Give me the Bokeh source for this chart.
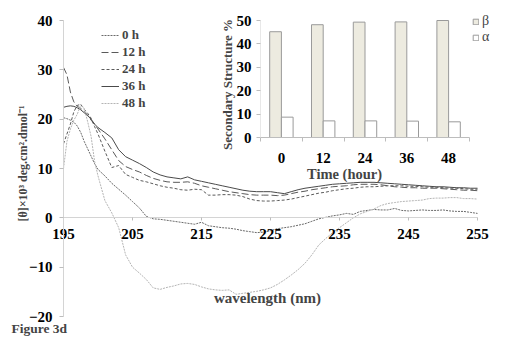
import numpy as np
from bokeh.plotting import figure
from bokeh.models import (Range1d, LinearAxis, FixedTicker, Legend, LegendItem, Label, ColumnDataSource)
from bokeh.embed import file_html
from bokeh.resources import INLINE

# ---------------- data ----------------
wavelength = [195, 195.5, 196, 196.5, 197, 197.5, 198, 198.5, 199, 199.5, 200] + list(range(201, 256))

h0 = [20.3, 20.1, 19.8, 19.4, 18.6, 17.3, 15.5, 14.0, 12.5, 11.0, 9.8,
      8.5, 7.0, 5.8, 4.6, 3.3, 2.0, 0.3, -0.2, -0.3, -0.5,
      -0.7, -0.9, -1.1, -1.3, -0.9, -1.6, -1.8, -2.0, -2.1, -2.3,
      -2.6, -2.8, -3.0, -2.9, -2.6, -2.2, -2.0, -1.8, -1.5, -1.2,
      -0.7, -0.2, 0.1, 0.4, 0.6, 0.9, 0.7, 1.3, 1.5, 1.7,
      1.6, 1.6, 1.9, 1.5, 1.4, 1.5, 1.6, 1.5, 1.5, 1.6,
      1.4, 1.3, 1.3, 1.1, 0.9]
h12 = [30.5, 29.0, 25.5, 23.5, 22.6, 22.2, 21.6, 20.8, 19.8, 19.0, 18.0,
       16.0, 13.8, 11.6, 10.4, 9.8, 9.3, 8.6, 8.0, 7.6, 7.3,
       7.2, 7.2, 7.3, 7.0, 6.5, 6.2, 5.9, 5.6, 5.3, 5.1,
       4.9, 4.7, 4.6, 4.6, 4.6, 4.5, 4.6, 4.9, 5.2, 5.4,
       5.7, 5.9, 6.1, 6.3, 6.4, 6.5, 6.7, 6.8, 6.8, 6.8,
       6.7, 6.5, 6.3, 6.2, 6.1, 6.1, 6.0, 6.0, 6.0, 5.9,
       5.8, 5.7, 5.6, 5.6, 5.5]
h24 = [15.0, 17.0, 19.0, 21.5, 22.8, 23.0, 22.0, 21.2, 20.2, 18.5, 17.0,
       13.5, 10.2, 10.6, 8.8, 8.2, 7.6, 7.3, 6.9, 6.5, 6.2,
       6.0, 5.7, 5.6, 5.8, 5.7, 4.6, 4.6, 4.7, 4.7, 4.6,
       4.3, 3.8, 3.5, 3.4, 3.4, 3.5, 3.6, 3.8, 4.1, 4.4,
       4.7, 5.0, 5.2, 5.5, 5.7, 5.9, 6.0, 6.2, 6.3, 6.3,
       6.4, 6.5, 6.5, 6.5, 6.4, 6.4, 6.3, 6.2, 6.2, 6.1,
       6.0, 6.0, 5.9, 5.8, 5.8]
h36 = [22.4, 22.6, 22.7, 22.6, 22.3, 21.9, 21.3, 20.7, 20.0, 19.0, 18.3,
       17.3, 16.2, 13.8, 12.4, 11.7, 11.0, 10.2, 9.3, 8.7, 8.3,
       8.1, 7.9, 8.3, 7.7, 7.4, 7.1, 6.8, 6.5, 6.2, 5.9,
       5.6, 5.4, 5.3, 5.3, 5.3, 5.1, 4.9, 5.3, 5.7, 6.0,
       6.2, 6.4, 6.6, 6.8, 6.9, 7.0, 7.1, 7.2, 7.2, 7.2,
       7.1, 7.0, 6.9, 6.8, 6.7, 6.6, 6.5, 6.4, 6.3, 6.3,
       6.2, 6.1, 6.1, 6.0, 6.0]
h48 = [10.0, 15.5, 18.0, 19.8, 21.0, 23.0, 22.2, 19.5, 16.5, 11.5, 8.5,
       3.5, 1.0, -2.0, -7.5, -10.0, -11.2, -12.5, -14.2, -14.5, -14.1,
       -13.8, -13.4, -13.3, -13.5, -14.0, -14.4, -14.6, -14.7, -14.6, -15.5,
       -15.3, -15.1, -14.9, -14.6, -14.2, -13.5, -12.6, -11.6, -10.5, -9.2,
       -7.5, -5.5, -4.2, -3.0, -2.0, -1.0, 0.0, 0.8, 1.3, 1.8,
       2.5, 2.9, 3.1, 3.3, 3.4, 3.5, 3.6, 3.9, 4.0, 4.0,
       4.1, 4.1, 3.9, 3.9, 3.8]

series_labels = ["0 h", "12 h", "24 h", "36 h", "48 h"]
x_ticks = [195, 205, 215, 225, 235, 245, 255]
y_ticks = [-20, -10, 0, 10, 20, 30, 40]

time_labels = ["0", "12", "24", "36", "48"]
beta = [45.2, 48.2, 49.3, 49.4, 50.0]
alpha = [8.7, 7.1, 7.1, 7.0, 6.7]
bar_y_ticks = [0, 10, 20, 30, 40, 50]

# ---------------- layout helpers (page pixel -> data) ----------------
W, H = 512, 337
OX, OY = 0, 0                      # canvas offset on the page (measured)
FL, FR, FT, FB = 63, 477, 20, 316  # main axes box in page px
XMIN, XMAX, YMIN, YMAX = 195, 255, -20, 40

def wl_at(px):
    return XMIN + (px - FL) * (XMAX - XMIN) / (FR - FL)

def v_at(py):
    return YMAX - (py - FT) * (YMAX - YMIN) / (FB - FT)

# inset: axis from page x 260..469, y 0 at 137, 50 at 20
IL, IR, I0, I50 = 260, 469, 137, 20
cat_w = (IR - IL) / len(time_labels)
bar_scale = (I0 - I50) / 50.0

def bx_at(px):
    return (px - IL) / cat_w - 0.5

def by_at(py):
    return (I0 - py) / bar_scale

SERIF = "Liberation Serif"

p = figure(width=W, height=H, output_backend="svg", toolbar_location=None,
           x_range=Range1d(wl_at(OX), wl_at(OX + W)), y_range=Range1d(v_at(OY + H), v_at(OY)),
           min_border=0)
p.outline_line_color = None
p.xgrid.visible = False
p.ygrid.visible = False
p.background_fill_color = "white"
p.border_fill_color = "white"

def style_axis(ax, size="15px"):
    ax.major_label_text_font = SERIF
    ax.major_label_text_font_style = "bold"
    ax.major_label_text_font_size = size
    ax.major_label_text_color = "black"
    ax.minor_tick_line_color = None

# main axes (drawn at x=195 / y=0 inside the frame)
xa = p.xaxis[0]
xa.fixed_location = 0
xa.bounds = (XMIN, XMAX)
xa.ticker = FixedTicker(ticks=x_ticks)
style_axis(xa)
xa.axis_line_color = "#d4d4d4"
xa.major_tick_line_color = "#bdbdbd"
xa.major_tick_in = 0
xa.major_tick_out = 3
xa.major_label_standoff = 8

ya = p.yaxis[0]
ya.fixed_location = XMIN
ya.bounds = (YMIN, YMAX)
ya.ticker = FixedTicker(ticks=y_ticks)
style_axis(ya)
ya.axis_line_color = "#d4d4d4"
ya.major_tick_line_color = "#bdbdbd"
ya.major_tick_in = 0
ya.major_tick_out = 4
ya.major_label_standoff = 7

# lines
styles = [
    dict(line_color="#6a6a6a", line_dash="2 1"),
    dict(line_color="#5a5a5a", line_dash="7 3"),
    dict(line_color="#5a5a5a", line_dash="3 2"),
    dict(line_color="#4a4a4a", line_dash="solid"),
    dict(line_color="#b4b4b4", line_dash="2 1"),
]
items = []
for lab, ys, st in zip(series_labels, [h0, h12, h24, h36, h48], styles):
    r = p.line(wavelength, ys, line_width=1, **st)
    items.append(LegendItem(label=lab, renderers=[r]))

leg = Legend(items=items, location=(101 - OX, OY + H - 111), orientation="vertical",
             label_text_font=SERIF, label_text_font_style="bold", label_text_font_size="13px",
             glyph_width=18, glyph_height=14, label_height=14, spacing=1, padding=0,
             margin=0, label_standoff=3, background_fill_alpha=0, border_line_color=None)
p.add_layout(leg, "center")

# ---------------- inset bar chart ----------------
p.extra_y_ranges = {"bar_y": Range1d(by_at(OY + H), by_at(OY))}
p.extra_x_ranges = {"bar_x": Range1d(bx_at(OX), bx_at(OX + W))}

idx = np.arange(len(time_labels))
bw = 0.28
src = ColumnDataSource(dict(xb=idx - bw / 2, xa=idx + bw / 2, beta=beta, alpha=alpha))
rb = p.vbar(x="xb", top="beta", bottom=0, width=bw, source=src, x_range_name="bar_x",
            y_range_name="bar_y", fill_color="#edebe0", line_color="#9a9a9a", line_width=1)
ra = p.vbar(x="xa", top="alpha", bottom=0, width=bw, source=src, x_range_name="bar_x",
            y_range_name="bar_y", fill_color="white", line_color="#9a9a9a", line_width=1)

iy = LinearAxis(y_range_name="bar_y", fixed_location=wl_at(IL), bounds=(0, 50),
                ticker=FixedTicker(ticks=bar_y_ticks))
style_axis(iy)
iy.axis_line_color = "#e8e8e8"
iy.major_tick_line_color = "#bdbdbd"
iy.major_tick_in = 0
iy.major_tick_out = 4
iy.major_label_standoff = 5
p.add_layout(iy, "left")

ix = LinearAxis(x_range_name="bar_x", y_range_name="bar_y", fixed_location=0,
                bounds=(-0.5, len(time_labels) - 0.5),
                ticker=FixedTicker(ticks=list(idx), minor_ticks=list(np.arange(len(time_labels) + 1) - 0.5)))
ix.major_label_overrides = {int(i): t for i, t in zip(idx, time_labels)}
style_axis(ix)
ix.axis_line_color = "#bdbdbd"
ix.major_tick_line_color = None
ix.minor_tick_line_color = "#bdbdbd"
ix.minor_tick_in = 0
ix.minor_tick_out = 4
ix.major_label_standoff = 9
p.add_layout(ix, "below")

leg2 = Legend(items=[LegendItem(label="\u03b2", renderers=[rb]), LegendItem(label="\u03b1", renderers=[ra])],
              location=(472 - OX, OY + H - 45), label_text_font=SERIF, label_text_font_size="14px",
              glyph_width=7, glyph_height=7, label_height=12, spacing=0, padding=0, margin=0,
              label_standoff=3, background_fill_alpha=0, border_line_color=None)
p.add_layout(leg2, "center")

# ---------------- texts ----------------
def txt(x, y, text, size="15px", angle=0.0, align="center", y_range_name="default"):
    p.add_layout(Label(x=x, y=y, y_range_name=y_range_name, text=text, angle=angle,
                       text_align=align, text_baseline="middle", text_font=SERIF,
                       text_font_style="bold", text_font_size=size))

txt(wl_at(22), v_at(163), "[\u03b8]\u00d710\u00b3 deg.cm\u00b2.dmol\u207b\u00b9", size="12px", angle=np.pi / 2)
txt(wl_at(227), by_at(84), "Secondary Structure %", size="13px", angle=np.pi / 2, y_range_name="bar_y")
txt(wl_at(344), by_at(173), "Time (hour)", size="14.5px", y_range_name="bar_y")
txt(wl_at(267), v_at(297), "wavelength (nm)")
txt(wl_at(11), v_at(328), "Figure 3d", size="13.5px", align="left")

open("out.html", "w").write(file_html(p, INLINE))
